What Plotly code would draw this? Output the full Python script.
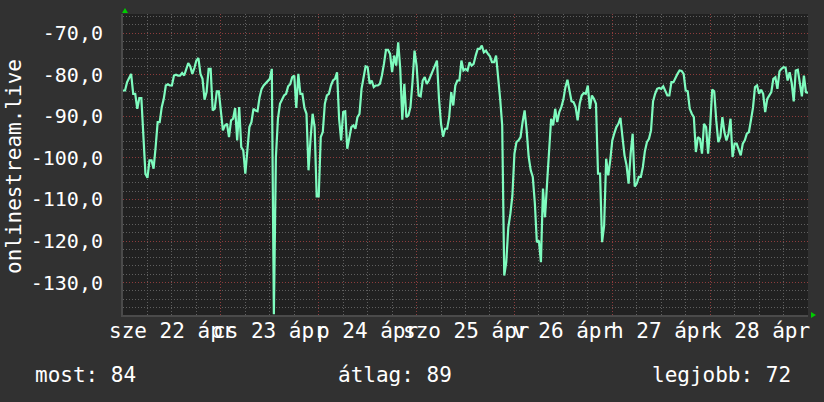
import pandas as pd
import plotly.graph_objects as go

# ---- data: values every 30 minutes, one list per day ----
apr22 = [-83.8, -83.8, -81.8, -80.6, -79.8, -84.6, -84.6, -88.2, -85.6, -85.6,
         -96.2, -103.8, -104.8, -100.6, -100.6, -102.6, -97.4, -91.4, -91.4, -87.8,
         -85.8, -82.6, -82.3, -82.6, -82.6, -80.2, -80.0, -80.2, -80.2, -79.6,
         -80.2, -78.8, -77.2, -78.0, -79.8, -78.4, -76.6, -76.0, -79.8, -81.0,
         -86.0, -84.2, -78.6, -78.6, -88.6, -88.2, -84.0, -84.0]
apr23 = [-88.2, -93.4, -92.2, -91.8, -95.0, -91.0, -90.6, -88.0, -95.8, -87.8,
         -97.4, -98.2, -103.8, -97.4, -92.6, -91.4, -88.2, -88.6, -88.8, -85.4,
         -83.4, -82.6, -82.0, -81.6, -81.0, -78.6, -137.6, -99.8, -90.6, -87.0,
         -86.0, -85.0, -84.6, -82.8, -82.3, -80.6, -80.2, -88.0, -79.8, -84.6,
         -84.6, -88.0, -89.4, -103.0, -95.4, -89.4, -92.6, -109.3]
apr24 = [-109.3, -95.0, -93.8, -87.0, -85.0, -84.6, -82.6, -81.4, -81.0, -79.4,
         -90.6, -95.8, -89.0, -88.8, -97.8, -95.0, -92.6, -92.2, -93.0, -90.2,
         -89.4, -83.4, -80.6, -78.0, -78.2, -82.2, -81.4, -83.0, -82.6, -82.6,
         -82.2, -80.2, -77.4, -74.0, -74.0, -75.0, -79.4, -75.4, -77.8, -72.2,
         -78.6, -90.8, -82.2, -90.2, -89.8, -87.8, -81.8, -74.2]
apr25 = [-77.8, -85.0, -85.2, -81.4, -80.6, -82.2, -81.4, -80.2, -78.6, -77.8,
         -76.6, -85.8, -91.8, -94.9, -93.0, -93.0, -90.2, -84.2, -87.4, -82.6,
         -81.4, -81.4, -76.6, -79.0, -78.6, -79.0, -77.0, -77.8, -77.4, -75.4,
         -73.8, -73.8, -73.0, -74.6, -74.2, -75.0, -75.6, -77.0, -77.0, -75.4,
         -80.2, -85.8, -92.2, -128.3, -125.1, -116.7, -113.5, -109.1]
apr26 = [-99.0, -96.2, -95.8, -95.0, -91.4, -88.6, -93.4, -99.8, -103.0, -104.6,
         -110.8, -120.3, -119.9, -125.1, -107.4, -114.3, -106.2, -99.4, -90.6, -92.2,
         -88.2, -91.4, -89.0, -87.8, -86.0, -83.0, -81.2, -83.8, -86.4, -86.6,
         -87.8, -91.0, -87.0, -85.0, -84.4, -84.6, -82.6, -88.2, -85.0, -85.8,
         -87.0, -103.8, -103.8, -120.3, -116.3, -100.2, -104.2, -100.6]
apr27 = [-95.8, -94.1, -92.6, -91.8, -90.4, -95.0, -99.4, -101.8, -106.2, -99.0,
         -94.2, -106.9, -106.2, -104.6, -104.6, -102.2, -98.4, -96.2, -95.4, -93.4,
         -86.4, -84.6, -83.4, -83.2, -83.4, -82.8, -84.0, -85.0, -85.0, -81.8,
         -81.8, -80.6, -79.8, -79.0, -79.1, -79.8, -83.8, -84.0, -88.2, -89.4,
         -90.2, -98.6, -95.0, -95.4, -99.0, -91.8, -92.6, -99.0]
apr28 = [-92.6, -83.6, -84.0, -91.0, -96.2, -95.0, -90.2, -93.8, -95.8, -94.2,
         -90.6, -99.8, -96.6, -96.6, -98.2, -99.4, -96.6, -95.8, -94.2, -93.8,
         -91.0, -88.0, -83.0, -82.6, -84.6, -83.6, -84.6, -89.0, -85.8, -85.0,
         -84.2, -81.0, -80.6, -83.4, -79.2, -78.6, -78.2, -78.3, -81.4, -79.4,
         -82.0, -86.4, -79.0, -78.8, -82.2, -85.2, -80.2, -84.2, -84.4]

start_time = "2020-04-22 00:00"
end_time = "2020-04-29 00:00"
day_labels = ["sze 22 ápr", "cs 23 ápr", "p 24 ápr", "szo 25 ápr",
              "v 26 ápr", "h 27 ápr", "k 28 ápr"]
y_tickvals = [-130, -120, -110, -100, -90, -80, -70]
y_ticktext = ["-130,0", "-120,0", "-110,0", "-100,0", "-90,0", "-80,0", "-70,0"]
y_title = "onlinestream.live"
stat_names = ["most", "átlag", "legjobb"]
stat_values = [84, 89, 72]

values = apr22 + apr23 + apr24 + apr25 + apr26 + apr27 + apr28
times = pd.date_range(start_time, periods=len(values), freq="30min")

# ---- figure ----
W, H = 824, 402
L, R, T, B = 123, 16, 14, 87
pw, ph = W - L - R, H - T - B

def px_x(px):
    return (px - L) / pw

def px_y(py):
    return (H - B - py) / ph

FONT = "DejaVu Sans Mono"
fig = go.Figure()
fig.add_trace(go.Scatter(
    x=times, y=values, mode="lines",
    line=dict(color="#7ffcbf", width=2.2, shape="linear"),
    hoverinfo="skip", showlegend=False,
))

grid_minor = "rgba(95,95,95,1)"
grid_major = "rgba(140,60,60,1)"

fig.update_layout(
    width=W, height=H,
    margin=dict(l=L, r=R, t=T, b=B, pad=0),
    paper_bgcolor="#313131",
    plot_bgcolor="#212121",
    showlegend=False,
    xaxis=dict(
        type="date", range=[start_time, end_time],
        showticklabels=False, ticks="",
        tick0=start_time, dtick=86400000,
        showgrid=True, gridcolor=grid_major, griddash="1px,2px", gridwidth=1,
        minor=dict(dtick=21600000, tick0=start_time, showgrid=True,
                   gridcolor=grid_minor, griddash="1px,2px", gridwidth=1),
        showline=True, linecolor="#4a4a4a", linewidth=2,
        zeroline=False, automargin=False, fixedrange=True,
    ),
    yaxis=dict(
        range=[-137.8, -65.4],
        tickmode="array", tickvals=y_tickvals, ticktext=y_ticktext,
        tickfont=dict(family=FONT, size=20, color="#ffffff"),
        ticks="", ticklabelstandoff=14,
        showgrid=True, gridcolor=grid_major, griddash="1px,2px", gridwidth=1,
        minor=dict(dtick=2, tick0=-70, showgrid=True,
                   gridcolor=grid_minor, griddash="1px,2px", gridwidth=1),
        showline=True, linecolor="#4a4a4a", linewidth=2,
        zeroline=False, automargin=False, fixedrange=True,
    ),
)

annotations = []
for i, lab in enumerate(day_labels):
    noon = pd.Timestamp(start_time) + pd.Timedelta(hours=12 + 24 * i)
    annotations.append(dict(
        x=noon, y=0, xref="x", yref="paper", text=lab, showarrow=False,
        xanchor="center", yanchor="middle", yshift=-16,
        font=dict(family=FONT, size=21, color="#ffffff"),
    ))
annotations.append(dict(
    x=px_x(14), y=px_y(166), xref="paper", yref="paper", text=y_title,
    showarrow=False, textangle=-90, xanchor="center", yanchor="middle",
    font=dict(family=FONT, size=21, color="#ffffff"),
))
stat_pos = [(33, "left"), (336, "left"), (793, "right")]
for (name, val), (px, anchor) in zip(zip(stat_names, stat_values), stat_pos):
    annotations.append(dict(
        x=px_x(px), y=px_y(375), xref="paper", yref="paper",
        text=f"{name}: {val}", showarrow=False, xanchor=anchor, yanchor="middle",
        font=dict(family=FONT, size=21, color="#ffffff"),
    ))
fig.update_layout(annotations=annotations)

# green arrow heads at axis ends
green = "#00cc00"
up = f"M {px_x(122)} {px_y(13)} L {px_x(128)} {px_y(13)} L {px_x(125)} {px_y(8)} Z"
right = f"M {px_x(811)} {px_y(312)} L {px_x(811)} {px_y(318)} L {px_x(816)} {px_y(315)} Z"
fig.update_layout(shapes=[
    dict(type="path", path=up, xref="paper", yref="paper",
         fillcolor=green, line=dict(color=green, width=0)),
    dict(type="path", path=right, xref="paper", yref="paper",
         fillcolor=green, line=dict(color=green, width=0)),
])

fig.write_html(
    "out.html",
    config={"displayModeBar": False},
    post_script="document.body.style.margin='0';document.body.style.padding='0';"
                "document.body.style.overflow='hidden';",
)
